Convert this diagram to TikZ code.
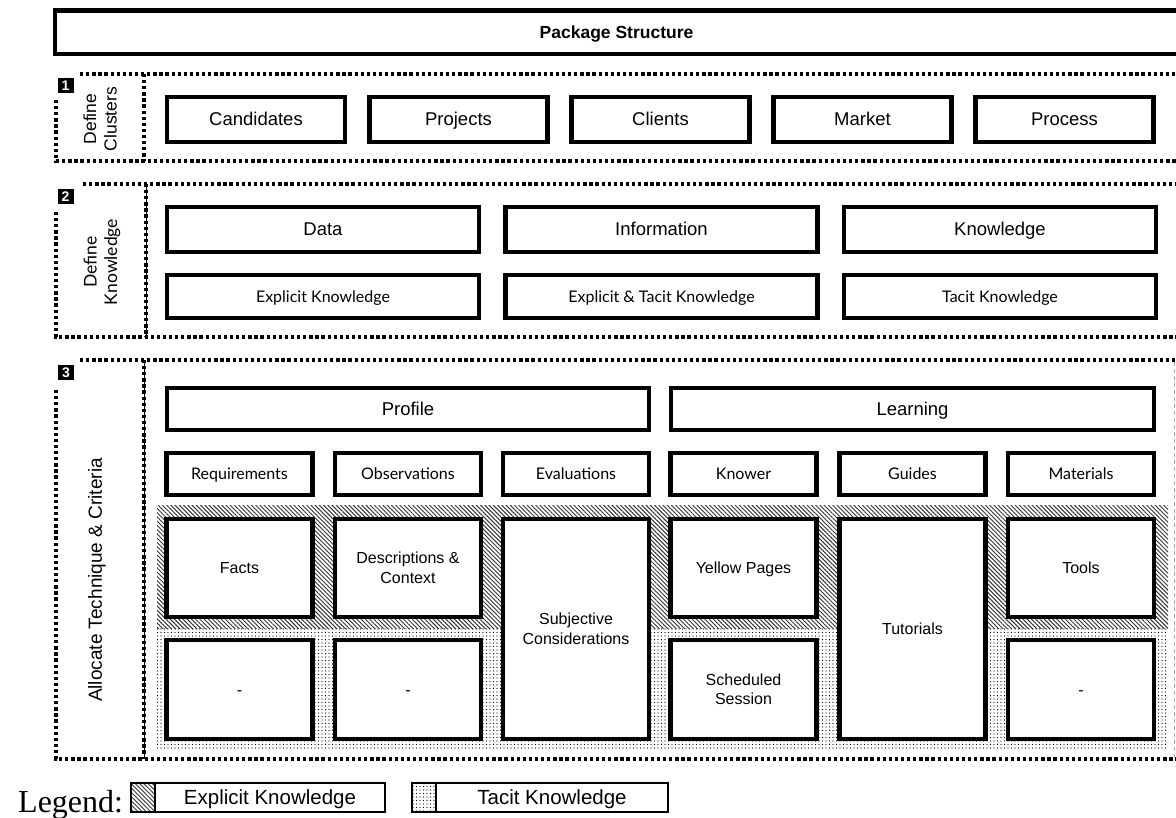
\documentclass[tikz,border=0pt]{standalone}
\usepackage{fontspec}
\newfontfamily\robo{Liberation Sans}
\newfontfamily\lato{Lato}
\newfontfamily\serifx{Liberation Serif}
\usetikzlibrary{patterns.meta}
\begin{document}
\begin{tikzpicture}[x=1pt,y=-1pt,
  cell/.style={draw,line width=4.5pt,fill=white,inner sep=2pt,align=center,anchor=center},
  bigtxt/.style={font=\robo\fontsize{18.5}{22}\selectfont,text height=14pt,text depth=1pt},
  midtxt/.style={font=\robo\fontsize{16}{19.5}\selectfont},
  midone/.style={midtxt,text height=12.5pt,text depth=1pt},
  smalltxt/.style={font=\lato\fontsize{16}{19}\selectfont,text height=12.5pt,text depth=1pt},
  sidetxt/.style={font=\robo\fontsize{17.5}{20.5}\selectfont,rotate=90,align=center},
  badge/.style={fill=black,text=white,font=\robo\bfseries\fontsize{14}{14}\selectfont,
    minimum width=16pt,minimum height=15pt,inner sep=0pt},
  dotline/.style={line width=3.3pt,dash pattern=on 3.3pt off 2.8pt},
  rowA/.style={cell,bigtxt,minimum width=178pt,minimum height=45pt},
  rowB/.style={cell,minimum width=312pt,minimum height=45pt},
  rowC/.style={cell,minimum width=146pt,minimum height=42pt},
  explicitfill/.style={pattern={Lines[angle=-45,distance=3pt,line width=0.95pt]},pattern color=black!80},
  tacitfill/.style={pattern={Dots[distance=3.5pt,radius=0.6pt]},pattern color=black},
  legbox/.style={draw,line width=2pt},
  legtxt/.style={font=\robo\fontsize{20.5}{24}\selectfont,text height=15.5pt,text depth=1pt}
]
\useasboundingbox (0,0) rectangle (1176,818);

% ---------- header ----------
\node[draw,line width=4.5pt,minimum width=1123pt,minimum height=43.5pt,inner sep=0pt,
  font=\robo\bfseries\fontsize{17.5}{20}\selectfont,text height=13.5pt,text depth=1pt]
  (head) at (616.5,32.25) {Package Structure};

% ---------- section 1: clusters ----------
\draw[dotline] (80,74) -- (1180,74);
\draw[dotline] (56,100) -- (56,161) -- (1180,161);
\draw[dotline] (144,74) -- (144,161);
\node[badge] (n1) at (65.5,85.5) {1};
\node[sidetxt] (s1) at (100,119) {Define\\Clusters};

\node[rowA] (cand) at (256,119.5) {Candidates};
\node[rowA] (proj) at (458.5,119.5) {Projects};
\node[rowA] (clie) at (660.5,119.5) {Clients};
\node[rowA] (mark) at (862.5,119.5) {Market};
\node[rowA] (proc) at (1064.5,119.5) {Process};

% ---------- section 2: knowledge ----------
\draw[dotline] (83,184) -- (1180,184);
\draw[dotline] (56,212) -- (56,337) -- (1180,337);
\draw[line width=0.8pt] (146,184) -- (146,337);
\draw[dotline] (146,184) -- (146,337);
\node[badge] (n2) at (65.5,197) {2};
\node[sidetxt,font=\lato\fontsize{17.5}{20.5}\selectfont] (s2) at (102,262) {Define\\Knowledge};

\node[rowB,bigtxt] (data) at (323,229.5) {Data};
\node[rowB,bigtxt] (info) at (661.5,229.5) {Information};
\node[rowB,bigtxt] (know) at (1000,229.5) {Knowledge};
\node[rowB,smalltxt,minimum height=43pt] (expk) at (323,296.5) {Explicit Knowledge};
\node[rowB,smalltxt,minimum height=43pt] (etk) at (661.5,296.5) {Explicit \& Tacit Knowledge};
\node[rowB,smalltxt,minimum height=43pt] (tack) at (1000,296.5) {Tacit Knowledge};

% ---------- section 3: technique & criteria ----------
\draw[dotline] (80,360) -- (1180,360);
\draw[dotline] (56,390) -- (56,759) -- (1180,759);
\draw[line width=0.8pt] (144,360) -- (144,759);
\draw[dotline] (144,360) -- (144,759);
\draw[black!35,line width=1pt,dash pattern=on 4pt off 3pt] (1174.5,362) -- (1174.5,757);
\node[badge] (n3) at (66,372.5) {3};
\node[sidetxt,font=\robo\fontsize{19}{22}\selectfont] (s3) at (97,580) {Allocate Technique \& Criteria};

% knowledge-type backgrounds
\fill[explicitfill] (157,505) rectangle (1168,628);
\fill[tacitfill] (157,628) rectangle (1168,748);

\node[cell,bigtxt,minimum width=482pt,minimum height=42pt] (prof) at (408,409) {Profile};
\node[cell,bigtxt,minimum width=483pt,minimum height=42pt] (lear) at (912.5,409) {Learning};

\node[rowC,smalltxt] (req) at (239.5,474) {Requirements};
\node[rowC,smalltxt] (obs) at (408,474) {Observations};
\node[rowC,smalltxt] (eva) at (576,474) {Evaluations};
\node[rowC,smalltxt] (kno) at (743.5,474) {Knower};
\node[rowC,smalltxt] (gui) at (912.5,474) {Guides};
\node[rowC,smalltxt] (mat) at (1081,474) {Materials};

\node[rowC,midone,minimum height=98pt] (fact) at (239.5,568) {Facts};
\node[rowC,midtxt,minimum height=98pt] (desc) at (408,568) {Descriptions \&\\Context};
\node[rowC,midtxt,minimum height=220pt] (subj) at (576,629) {Subjective\\Considerations};
\node[rowC,midone,minimum height=98pt] (yell) at (743.5,568) {Yellow Pages};
\node[rowC,midone,minimum height=220pt] (tuto) at (912.5,629) {Tutorials};
\node[rowC,midone,minimum height=98pt] (tool) at (1081,568) {Tools};

\node[rowC,midone,minimum height=99pt] (nofa) at (239.5,689.5) {-};
\node[rowC,midone,minimum height=99pt] (node) at (408,689.5) {-};
\node[rowC,midtxt,minimum height=99pt] (sche) at (743.5,689.5) {Scheduled\\Session};
\node[rowC,midone,minimum height=99pt] (noto) at (1081,689.5) {-};

% ---------- legend ----------
\node[anchor=base west,inner sep=0pt,font=\serifx\fontsize{32}{35}\selectfont] (leg) at (18,812) {Legend:};
\fill[explicitfill] (131,783) rectangle (155,812);
\draw[legbox] (131,783) rectangle (155,812);
\node[legbox,legtxt,minimum width=230pt,minimum height=29pt,inner sep=0pt] (lexp) at (270,797.5) {Explicit Knowledge};
\fill[tacitfill] (412,783) rectangle (436,812);
\draw[legbox] (412,783) rectangle (436,812);
\node[legbox,legtxt,minimum width=232pt,minimum height=29pt,inner sep=0pt] (ltac) at (552,797.5) {Tacit Knowledge};
\end{tikzpicture}
\end{document}
